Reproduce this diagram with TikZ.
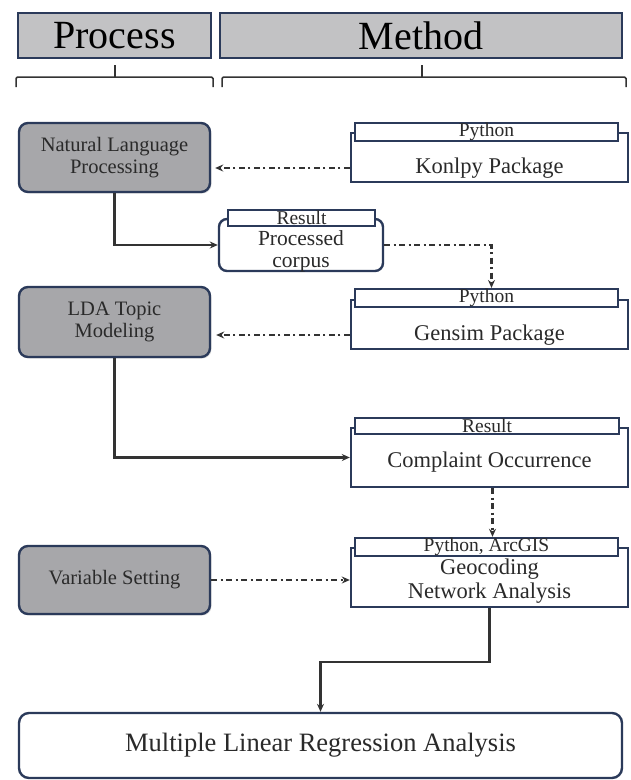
\documentclass[tikz,border=0pt]{standalone}
\usepackage{fontspec}
\setmainfont{Liberation Serif}
\usetikzlibrary{positioning,shadows,arrows.meta}
\definecolor{navy}{HTML}{2B3A5A}
\definecolor{headgray}{HTML}{C2C2C4}
\definecolor{procgray}{HTML}{A7A7AA}
\definecolor{txtgray}{HTML}{2A2A2A}
\definecolor{linegray}{HTML}{333333}

\begin{document}
\begin{tikzpicture}[>={Stealth[length=8pt,width=7pt]}, x=1pt, y=-1pt,
    headbox/.style={draw=navy, fill=headgray, line width=1.5pt, inner sep=0pt, minimum height=45pt, font=\fontsize{40}{42}\selectfont},
    procbox/.style={draw=navy, fill=procgray, line width=2.4pt, rounded corners=9pt, minimum width=191pt, align=center, text=txtgray, font=\fontsize{20.5}{22}\selectfont, drop shadow={shadow xshift=1.5pt, shadow yshift=-1.5pt, opacity=0.25}},
    toolbox/.style={draw=navy, fill=white, line width=2.4pt, minimum width=277pt, inner sep=0pt},
    tabbox/.style={draw=navy, fill=white, line width=2.4pt, inner sep=0pt, minimum height=16pt, text=txtgray, font=\fontsize{19.5}{19.5}\selectfont},
    tooltxt/.style={inner sep=0pt, align=center, text=txtgray, font=\fontsize{22.5}{24}\selectfont},
    resbox/.style={draw=navy, fill=white, line width=2.4pt, rounded corners=8pt, inner sep=0pt},
    brace/.style={draw=linegray, line width=1.5pt, rounded corners=1.5pt},
    flow/.style={->, draw=linegray, line width=2.2pt},
    dflow/.style={->, draw=linegray, line width=2.2pt, dash pattern=on 6pt off 3.5pt on 2pt off 3.5pt}]
    \useasboundingbox (0,0) rectangle (630,780);
    \node[headbox, minimum width=193pt] (phead) at (114.5,35.5) {Process};
    \node[headbox, minimum width=402pt] (mhead) at (421,35.5) {Method};
    \draw[brace] (16,87) -- (16,77) -- (213,77) -- (213,87);
    \draw[brace] (115,65) -- (115,77);
    \draw[brace] (222,87) -- (222,77) -- (626,77) -- (626,87);
    \draw[brace] (422,65) -- (422,77);

    \node[procbox, minimum height=69pt] (nlp) at (114.5,157.5) {Natural Language\\Processing};
    \node[procbox, minimum height=70pt] (lda) at (114.5,322) {LDA Topic\\Modeling};
    \node[procbox, minimum height=68pt] (var) at (114.5,580) {Variable Setting};

    \node[toolbox, minimum height=49pt] (konlpy) at (489.5,157.5) {};
    \node[tabbox, minimum width=263pt] (ktab) at (486.5,132) {Python};
    \node[tooltxt] (ktxt) at (489.5,168) {Konlpy Package};

    \node[resbox, minimum width=164pt, minimum height=52pt] (corpus) at (301,245) {};
    \node[tabbox, minimum width=147pt] (ctab) at (301.5,218) {Result};
    \node[tooltxt, font=\fontsize{21.5}{22}\selectfont] (ctxt) at (301,251) {Processed\\corpus};

    \node[toolbox, minimum height=49pt] (gensim) at (489.5,324.5) {};
    \node[tabbox, minimum width=263pt] (gtab) at (486.5,298) {Python};
    \node[tooltxt] (gtxt) at (489.5,335) {Gensim Package};

    \node[toolbox, minimum height=59pt] (compl) at (489.5,457.5) {};
    \node[tabbox, minimum width=264pt] (otab) at (487,426) {Result};
    \node[tooltxt] (otxt) at (489.5,462) {Complaint Occurrence};

    \node[toolbox, minimum height=59pt] (geo) at (489.5,577.5) {};
    \node[tabbox, minimum width=263pt, minimum height=18pt] (atab) at (486.5,547) {Python, ArcGIS};
    \node[tooltxt] (atxt) at (489.5,581) {Geocoding\\Network Analysis};

    \node[resbox, rounded corners=10pt, minimum width=603pt, minimum height=65pt, text=txtgray, font=\fontsize{26.5}{28}\selectfont] (mlr) at (320.5,745.5) {Multiple Linear Regression Analysis};

    \draw[dflow, shorten >=4pt] (konlpy.west |- ktxt) -- (nlp.east |- ktxt);
    \draw[flow] (nlp.south) |- (corpus.west);
    \draw[dflow] (corpus.east) -| ([xshift=5pt]gtab.north);
    \draw[dflow, shorten >=5pt] (gensim.west |- gtxt) -- (lda.east |- gtxt);
    \draw[flow] (lda.south) |- (compl.west);
    \draw[dflow] ([xshift=3pt]compl.south) -- ([xshift=3pt]compl.south |- atab.north);
    \draw[dflow] (var.east) -- (geo.west |- var.east);
    \draw[flow] (geo.south) -- ++(0,54) -| (mlr.north);
\end{tikzpicture}
\end{document}
